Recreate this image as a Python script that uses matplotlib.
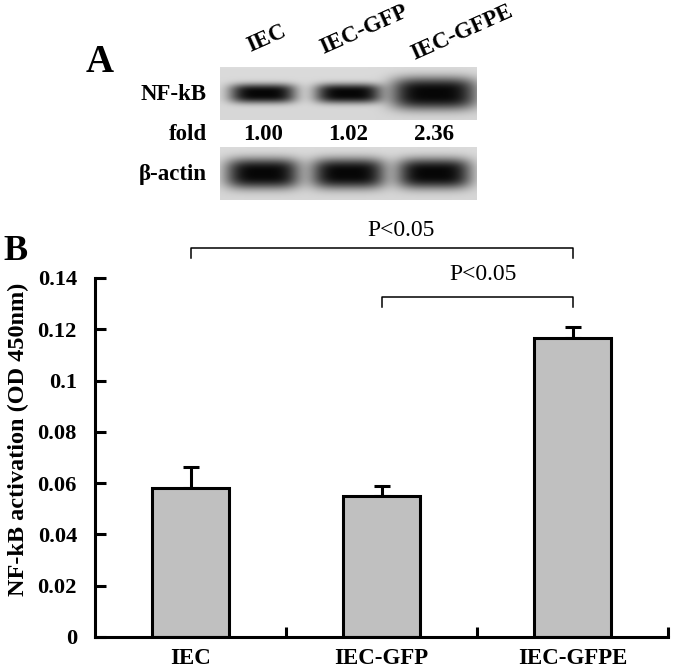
import numpy as np
import matplotlib.pyplot as plt

plt.rcParams['font.family'] = ['Liberation Serif', 'DejaVu Serif']

# Panel B data
groups = ['IEC', 'IEC-GFP', 'IEC-GFPE']
activation = [0.058, 0.055, 0.1165]
activation_err = [0.0083, 0.0038, 0.0043]
yticks = [0, 0.02, 0.04, 0.06, 0.08, 0.1, 0.12, 0.14]
ytick_labels = ['0', '0.02', '0.04', '0.06', '0.08', '0.1', '0.12', '0.14']

# Panel A data (western blot)
fold = [1.00, 1.02, 2.36]
fold_labels = ['1.00', '1.02', '2.36']
actin_level = [1.0, 1.0, 1.0]

W, H = 685, 668
fig = plt.figure(figsize=(W / 100, H / 100), dpi=100)


def px_box(x0, y0, x1, y1):
    # figure fraction box from pixel coords (origin top-left)
    return [x0 / W, 1 - y1 / H, (x1 - x0) / W, (y1 - y0) / H]


# ---------------- Panel A: blot ----------------
bx0, bx1 = 220, 477
axb = fig.add_axes(px_box(bx0, 67, bx1, 200))
bw = bx1 - bx0
axb.set_xlim(0, bw)
axb.set_ylim(133, 0)
axb.axis('off')

lane_w = bw / 3
lane_c = [(i + 0.5) * lane_w for i in range(3)]
xx, yy = np.meshgrid(np.arange(bw) + 0.5, np.arange(53) + 0.5)


def blot(levels, wscale, hscale, wexp, hexp):
    img = np.full(xx.shape, 0.86)
    img -= 0.02 * (yy / 53)
    for c, lv in zip(lane_c, levels):
        w = wscale * lv ** wexp
        h = hscale * lv ** hexp
        f = np.exp(-(np.abs(xx - c) / (w / 2)) ** 4 - (np.abs(yy - 26.5) / (h / 2)) ** 3)
        img = img * (1 - 0.97 * f)
    return img


axb.imshow(blot(fold, 66, 19, 0.3, 0.6), cmap='gray', vmin=0, vmax=1,
           extent=(0, bw, 53, 0), aspect='auto', interpolation='bilinear')
axb.imshow(blot(actin_level, 74, 30, 1, 1), cmap='gray', vmin=0, vmax=1,
           extent=(0, bw, 133, 80), aspect='auto', interpolation='bilinear')

lab_kw = dict(fontsize=16.5, fontweight='bold', va='center', clip_on=False)
axb.text(-13, 28, 'NF-kB', ha='right', **lab_kw)
axb.text(-13, 68, 'fold', ha='right', **lab_kw)
axb.text(-13, 108, '\u03b2-actin', ha='right', **lab_kw)
for c, s in zip(lane_c, fold_labels):
    axb.text(c, 68, s, ha='center', **lab_kw)

lane_label_pos = [(47, -28), (144, -37), (242, -34)]
for (lx, ly), g in zip(lane_label_pos, groups):
    axb.text(lx, ly, g, ha='center', va='center', rotation=24,
             rotation_mode='anchor', fontsize=16.5, fontweight='bold', clip_on=False)

fig.text(100 / W, 1 - 62 / H, 'A', fontsize=28, fontweight='bold', ha='center', va='center')
fig.text(15 / W, 1 - 251 / H, 'B', fontsize=26, fontweight='bold', ha='center', va='center')

# ---------------- Panel B: bar chart ----------------
ax = fig.add_axes(px_box(95, 278, 668, 637))
x = np.arange(len(groups))
ax.bar(x, activation, width=0.4, color='#c0c0c0', edgecolor='black', linewidth=2.2, zorder=2)
ax.errorbar(x, activation, yerr=[np.zeros(3), activation_err], fmt='none',
            ecolor='black', elinewidth=2.2, capsize=6, capthick=2.2, zorder=1)

ax.set_xlim(-0.5, 2.5)
ax.set_ylim(0, 0.14)
ax.spines['top'].set_visible(False)
ax.spines['right'].set_visible(False)
for s in ['left', 'bottom']:
    ax.spines[s].set_linewidth(2.2)

ax.set_yticks(yticks)
ax.set_yticklabels(ytick_labels, fontsize=16.2, fontweight='bold')
ax.tick_params(axis='y', direction='in', length=8, width=2.2, pad=13)
ax.set_xticks(x)
ax.set_xticklabels(groups, fontsize=16.5, fontweight='bold')
ax.tick_params(axis='x', which='major', length=0, pad=8)
ax.set_xticks([0.5, 1.5, 2.5], minor=True)
ax.tick_params(axis='x', which='minor', direction='in', length=7, width=2.2)
ax.set_ylabel('NF-kB activation (OD 450nm)', fontsize=17.5, fontweight='bold')
ax.yaxis.set_label_coords(-0.115, 0.55)

# significance brackets
brackets = [(0, 2, 0.1517, 1.10, 0.1585), (1, 2, 0.1326, 1.53, 0.1412)]
for a, b, yb, tx, ty in brackets:
    ax.plot([a, a, b, b], [yb - 0.0039, yb, yb, yb - 0.0039], color='black',
            linewidth=1.1, clip_on=False)
    ax.text(tx, ty, 'P<0.05', ha='center', va='center', fontsize=17, clip_on=False)

fig.savefig('out.png', dpi=100)
